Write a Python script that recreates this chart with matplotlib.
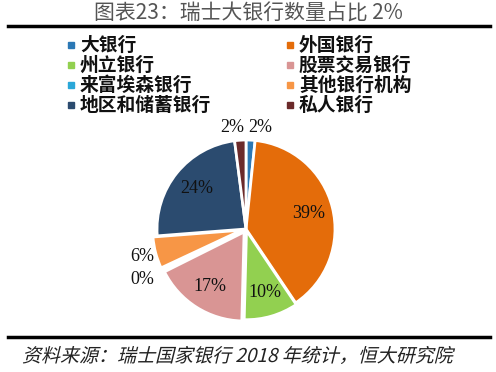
import matplotlib
matplotlib.use('Agg')
import matplotlib.pyplot as plt
from matplotlib.patches import Rectangle, PathPatch
from matplotlib.lines import Line2D
from matplotlib.textpath import TextPath
from matplotlib.font_manager import FontProperties
from matplotlib.transforms import Affine2D, IdentityTransform
import numpy as np

plt.rcParams['font.family'] = ['Noto Sans CJK SC', 'DejaVu Sans']

# bank counts (2018), shares
categories = ['大银行', '外国银行', '州立银行', '股票交易银行',
              '来富埃森银行', '其他银行机构', '地区和储蓄银行', '私人银行']
counts = [4, 95, 24, 42, 1, 14, 59, 5]
colors = ['#2b78b5', '#e46c0a', '#92d050', '#d99594',
          '#2aa7d8', '#f79646', '#2b4b6f', '#6b2a2a']

title = '图表23：瑞士大银行数量占比 2%'
source = '资料来源：瑞士国家银行 2018 年统计，恒大研究院'

W, H = 496, 372
fig = plt.figure(figsize=(W / 100, H / 100), dpi=100)

def fx(px):
    return px / W

def fy(py):
    return 1 - py / H

# title + rules
fig.text(fx(248), fy(14), title, ha='center', va='center', fontsize=15,
         color='#555555', fontweight='light')
fig.add_artist(Line2D([fx(8), fx(490)], [fy(26), fy(26)], color='black', lw=2.5))
fig.add_artist(Line2D([fx(8), fx(490)], [fy(337), fy(337)], color='black', lw=2.5))

# source line, slanted by hand since the CJK font has no italic
tp = TextPath((0, 0), source, size=19,
              prop=FontProperties(family='Noto Sans CJK SC', weight='light'))
tr = Affine2D().skew_deg(14, 0).translate(22, H - 362) + IdentityTransform()
fig.add_artist(PathPatch(tp, transform=tr, facecolor='#222222', lw=0))

# legend, two columns, row-major
for i, (name, c) in enumerate(zip(categories, colors)):
    col, row = i % 2, i // 2
    x0 = 68 if col == 0 else 287
    y0 = 45 + row * 20
    fig.add_artist(Rectangle((fx(x0), fy(y0 + 3)), fx(6), 6 / H, color=c,
                             transform=fig.transFigure))
    fig.text(fx(x0 + 12), fy(y0), name, ha='left', va='center',
             fontsize=13.5, fontweight='bold', color='#111111')

# pie
cx, cy, r = 246, 229, 89
size = 2.5 * r
ax = fig.add_axes([fx(cx - size / 2), 1 - (cy + size / 2) / H, size / W, size / H])
explode = [0, 0, 0.02, 0.04, 0, 0.05, 0, 0]
wedges, texts, autotexts = ax.pie(
    counts, colors=colors, startangle=90, counterclock=False,
    explode=explode, autopct='%1.0f%%', pctdistance=0.72,
    wedgeprops=dict(edgecolor='white', linewidth=2),
    textprops=dict(fontsize=13, family='Liberation Serif', color='#111111'))
ax.set_xlim(-1.25, 1.25)
ax.set_ylim(-1.25, 1.25)

# small slices get labels outside
fr = np.array(counts) / sum(counts)
for w, t, f in zip(wedges, autotexts, fr):
    if f < 0.07:
        ang = np.deg2rad((w.theta1 + w.theta2) / 2)
        d = 1.2 if f > 0.03 else 1.3
        t.set_position((d * np.cos(ang), d * np.sin(ang)))
        if 0.01 < f < 0.03:
            t.set_ha('left' if np.cos(ang) > 0 else 'right')
            t.set_position((0.02 * np.sign(np.cos(ang)), 1.14))

fig.savefig('out.png', dpi=100)
